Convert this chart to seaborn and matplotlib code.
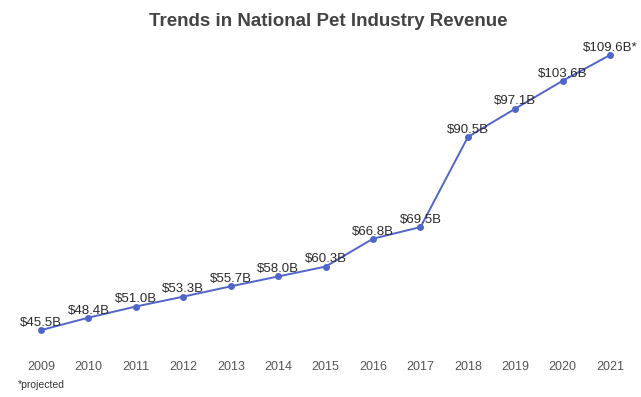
import pandas as pd
import numpy as np
import matplotlib.pyplot as plt
import seaborn as sns

# DATA
years = [2009, 2010, 2011, 2012, 2013, 2014, 2015, 2016, 2017, 2018, 2019, 2020, 2021]
revenue = [45.5, 48.4, 51.0, 53.3, 55.7, 58.0, 60.3, 66.8, 69.5, 90.5, 97.1, 103.6, 109.6]
labels = ["$45.5B", "$48.4B", "$51.0B", "$53.3B", "$55.7B", "$58.0B", "$60.3B",
          "$66.8B", "$69.5B", "$90.5B", "$97.1B", "$103.6B", "$109.6B*"]

df = pd.DataFrame({"year": years, "revenue": revenue})

# STYLE
sns.set_style("white")
plt.rcParams['font.family'] = ['Liberation Sans', 'DejaVu Sans']

fig = plt.figure(figsize=(6.41, 3.97), dpi=100)
ax = fig.add_axes([0.027, 0.109, 0.962, 0.811])

line_color = "#5065c8"
sns.lineplot(
    data=df,
    x="year",
    y="revenue",
    color=line_color,
    marker="o",
    markersize=5,
    markeredgewidth=0,
    linewidth=1.4,
    ax=ax
)

# POINT LABELS
for yr, val, lab in zip(years, revenue, labels):
    ax.annotate(lab, (yr, val), xytext=(0, 3), textcoords="offset points",
                ha="center", va="baseline", fontsize=9.5, color="#2a2a2a")

ax.set_xlim(2008.5, 2021.5)
ax.set_ylim(40, 115)
ax.set_xticks(years)
ax.set_xticklabels([str(y) for y in years], fontsize=9, color="#555555")
ax.set_yticks([])
ax.tick_params(axis="x", length=0, pad=5)
ax.set_xlabel("")
ax.set_ylabel("")
sns.despine(ax=ax, left=True, bottom=True)

fig.text(0.512, 0.945, "Trends in National Pet Industry Revenue",
         ha="center", va="center", fontsize=13.5, fontweight="bold", color="#444444")
fig.text(0.028, 0.03, "*projected", ha="left", va="center", fontsize=7.5, color="#333333")

fig.savefig("out.png", dpi=100)
